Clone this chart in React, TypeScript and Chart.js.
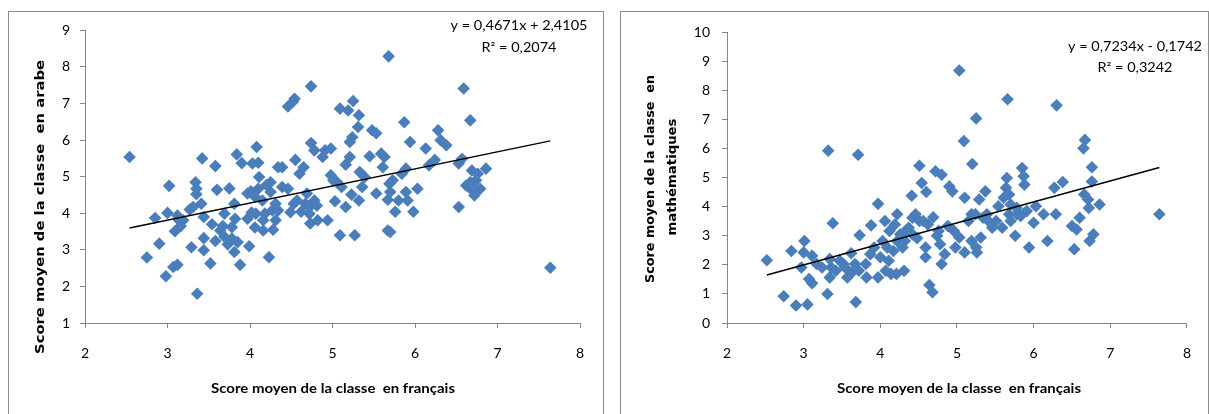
import React, { useEffect, useRef } from 'react';
import { Chart, registerables } from 'chart.js';

Chart.register(...registerables);

// ---------- Data ----------
// Left panel: x = score moyen en français, y = score moyen en arabe
const arabeX = [
  2.54, 2.75, 2.85, 2.90, 2.98, 3.00, 3.02, 3.07, 3.12, 3.09,
  3.12, 3.16, 3.19, 3.27, 3.29, 3.34, 3.35, 3.35, 3.36, 3.42,
  3.41, 3.44, 3.44, 3.44, 3.52, 3.54, 3.58, 3.60, 3.58, 3.64,
  3.67, 3.69, 3.73, 3.75, 3.78, 3.81, 3.82, 3.81, 3.84, 3.85,
  3.88, 3.90, 3.99, 4.01, 4.02, 4.03, 4.08, 4.10, 4.07, 4.06,
  4.11, 4.10, 4.15, 4.18, 4.16, 4.23, 4.25, 4.27, 4.28, 4.31,
  4.34, 4.39, 4.39, 4.46, 4.52, 4.54, 4.46, 4.49, 4.55, 4.57,
  4.60, 4.62, 4.65, 4.69, 4.72, 4.73, 4.74, 4.74, 4.78, 4.78,
  4.81, 4.82, 4.88, 4.91, 4.94, 4.98, 4.98, 5.01, 5.03, 5.09,
  5.09, 5.11, 5.16, 5.16, 5.19, 5.21, 5.24, 5.21, 5.23, 5.25,
  5.27, 5.31, 5.32, 5.32, 5.33, 5.36, 5.39, 5.45, 5.48, 5.53,
  5.53, 5.59, 5.61, 5.63, 5.67, 5.68, 5.69, 5.70, 5.67, 5.73,
  5.76, 5.80, 5.84, 5.87, 5.89, 5.89, 5.91, 5.94, 5.98, 6.03,
  6.13, 6.17, 6.24, 6.28, 6.31, 6.38, 6.53, 6.53, 6.57, 6.59,
  6.67, 6.65, 6.69, 6.72, 6.74, 6.79, 6.86, 7.64, 6.69, 6.76,
  3.78, 3.69, 3.97, 4.06, 4.20, 4.25, 4.34, 4.53, 4.67, 4.72,
  3.97, 4.16, 4.31, 3.31, 3.14, 5.70, 6.67, 6.72, 6.62, 5.05,
];
const arabeY = [
  5.54, 2.79, 3.87, 3.17, 2.28, 4.01, 4.75, 2.53, 2.59, 3.51,
  3.94, 3.65, 3.81, 4.10, 3.07, 4.85, 4.67, 4.52, 1.80, 5.50,
  4.26, 3.90, 3.32, 2.99, 2.63, 3.70, 5.29, 4.64, 3.24, 3.53,
  3.65, 3.99, 3.15, 4.68, 3.62, 4.26, 3.85, 2.94, 5.61, 3.21,
  2.59, 5.37, 3.10, 4.60, 4.02, 5.36, 5.81, 5.38, 3.99, 3.61,
  4.99, 4.67, 4.35, 3.99, 3.53, 2.80, 4.85, 4.08, 3.55, 4.26,
  5.26, 5.26, 4.72, 6.92, 7.05, 7.13, 4.67, 4.03, 5.46, 4.35,
  5.08, 4.04, 5.26, 4.54, 3.99, 3.72, 7.47, 5.92, 5.72, 4.35,
  4.21, 3.81, 5.54, 5.72, 3.81, 5.77, 5.04, 4.90, 4.33, 6.86,
  3.40, 4.72, 5.33, 4.17, 6.81, 5.95, 6.08, 5.54, 4.51, 7.07,
  3.40, 6.36, 6.68, 4.35, 5.13, 4.72, 4.99, 5.56, 6.27, 6.19,
  4.54, 5.63, 5.26, 5.54, 3.53, 8.29, 4.81, 3.49, 4.37, 4.90,
  4.04, 4.35, 5.08, 6.49, 5.22, 4.58, 4.35, 5.95, 4.04, 4.67,
  5.77, 5.31, 5.46, 6.27, 6.00, 5.86, 4.17, 5.36, 5.49, 7.41,
  6.54, 4.72, 5.17, 4.49, 4.90, 4.67, 5.22, 2.51, 4.72, 5.08,
  3.31, 3.36, 4.54, 4.45, 4.77, 4.58, 4.08, 4.26, 4.26, 4.17,
  3.85, 3.81, 3.81, 4.17, 3.81, 4.58, 4.85, 4.58, 4.76, 4.86,
];

// Right panel: x = score moyen en français, y = score moyen en mathématiques
const mathX = [
  2.52, 2.74, 2.84, 2.90, 2.97, 3.01, 3.00, 3.05, 3.07, 3.11,
  3.11, 3.17, 3.24, 3.31, 3.32, 3.34, 3.34, 3.38, 3.42, 3.47,
  3.54, 3.57, 3.62, 3.63, 3.68, 3.71, 3.72, 3.73, 3.81, 3.82,
  3.87, 3.88, 3.97, 3.97, 4.00, 4.03, 4.06, 4.07, 4.11, 4.12,
  4.14, 4.17, 4.21, 4.22, 4.26, 4.29, 4.31, 4.33, 4.37, 4.41,
  4.42, 4.46, 4.48, 4.51, 4.54, 4.56, 4.59, 4.60, 4.59, 4.64,
  4.68, 4.69, 4.72, 4.74, 4.76, 4.78, 4.80, 4.80, 4.84, 4.88,
  4.90, 4.94, 4.96, 4.98, 5.03, 5.03, 5.09, 5.10, 5.10, 5.15,
  5.19, 5.19, 5.20, 5.25, 5.25, 5.26, 5.29, 5.31, 5.34, 5.37,
  5.39, 5.41, 5.46, 5.54, 5.59, 5.61, 5.64, 5.65, 5.66, 5.68,
  5.68, 5.70, 5.76, 5.78, 5.83, 5.85, 5.87, 5.88, 5.91, 5.94,
  6.00, 6.03, 6.13, 6.18, 6.27, 6.29, 6.30, 6.38, 6.50, 6.53,
  6.56, 6.60, 6.65, 6.67, 6.66, 6.71, 6.72, 6.73, 6.76, 6.76,
  6.78, 6.86, 7.64, 3.36, 3.52, 3.67, 3.92, 4.09, 4.22, 4.32,
  4.42, 4.51, 4.62, 4.19, 5.51, 5.70, 5.78, 5.24,
];
const mathY = [
  2.16, 0.92, 2.48, 0.60, 1.91, 2.82, 2.43, 0.64, 1.51, 1.37,
  2.31, 2.03, 1.91, 1.00, 5.93, 2.20, 1.57, 3.43, 1.80, 2.14,
  1.91, 1.57, 2.40, 1.74, 0.72, 5.79, 1.80, 3.02, 2.03, 1.57,
  2.37, 3.36, 4.10, 1.57, 2.26, 2.82, 3.51, 1.80, 2.14, 3.17,
  1.69, 2.48, 1.69, 3.74, 3.05, 2.60, 1.80, 3.17, 3.28, 4.38,
  3.62, 3.74, 2.92, 5.41, 4.82, 3.51, 2.60, 4.51, 2.26, 1.31,
  1.06, 3.64, 5.22, 3.00, 3.17, 2.71, 5.10, 2.03, 2.37, 3.34,
  4.70, 4.53, 3.17, 2.60, 8.69, 2.94, 6.26, 4.31, 2.43, 3.51,
  3.74, 2.82, 5.47, 7.04, 2.60, 2.43, 4.25, 2.94, 3.62, 4.53,
  3.74, 3.51, 3.28, 4.02, 3.28, 4.31, 4.65, 4.99, 7.70, 4.42,
  3.74, 3.51, 3.00, 3.74, 3.68, 5.33, 5.05, 4.76, 3.85, 2.60,
  3.45, 4.02, 3.74, 2.82, 4.65, 3.74, 7.49, 4.85, 3.34, 2.54,
  3.22, 3.62, 6.01, 6.30, 4.42, 4.25, 3.96, 2.82, 4.87, 5.36,
  3.05, 4.08, 3.74, 1.91, 2.03, 2.03, 2.60, 2.60, 2.82, 2.82,
  3.05, 3.51, 3.39, 3.39, 3.51, 4.08, 3.96, 3.74,
];

// Linear trend lines (as printed on the chart)
const arabeSlope = 0.4671;
const arabeIntercept = 2.4105;
const mathSlope = 0.7234;
const mathIntercept = -0.1742;

const arabeEquation = ['y = 0,4671x + 2,4105', 'R² = 0,2074'];
const mathEquation = ['y = 0,7234x - 0,1742', 'R² = 0,3242'];

const xTitle = 'Score moyen de la classe  en français';
const arabeYTitle = ['Score moyen de la classe  en arabe'];
const mathYTitle = ['Score moyen de la classe  en', 'mathématiques'];

const xRange = [2, 8];
const arabeRange = [1, 9];
const mathRange = [0, 10];

// ---------- Drawing helpers ----------
type TextItem = {
  text: string;
  x: number;
  y: number;
  width: number;
  font: string;
  rotate?: boolean;
};

function makeTextPlugin(items: TextItem[]) {
  return {
    id: 'fittedTexts',
    afterDraw(chart: any) {
      const ctx: CanvasRenderingContext2D = chart.ctx;
      for (const it of items) {
        ctx.save();
        ctx.font = it.font;
        const w = ctx.measureText(it.text).width;
        ctx.translate(it.x, it.y);
        if (it.rotate) ctx.rotate(-Math.PI / 2);
        ctx.scale(it.width / w, 1);
        ctx.textAlign = 'center';
        ctx.textBaseline = 'middle';
        ctx.fillStyle = '#000';
        ctx.fillText(it.text, 0, 0);
        ctx.restore();
      }
    },
  };
}

type PanelProps = {
  xs: number[];
  ys: number[];
  slope: number;
  intercept: number;
  yRange: number[];
  width: number;
  height: number;
  yAxisWidth: number;
  padRight: number;
  yTickPadding: number;
  texts: TextItem[];
};

const AXIS_GREY = '#868686';
const MARKER = '#4a7ebb';

function ScatterPanel(p: PanelProps) {
  const ref = useRef<HTMLCanvasElement>(null);
  useEffect(() => {
    const canvas = ref.current!;
    const pts = p.xs.map((x, i) => ({ x, y: p.ys[i] }));
    const xMin = Math.min(...p.xs);
    const xMax = Math.max(...p.xs);
    const trend = [
      { x: xMin, y: p.slope * xMin + p.intercept },
      { x: xMax, y: p.slope * xMax + p.intercept },
    ];
    const chart = new Chart(canvas, {
      type: 'scatter',
      data: {
        datasets: [
          {
            type: 'line',
            data: trend,
            borderColor: '#000',
            borderWidth: 1.5,
            pointRadius: 0,
            fill: false,
            order: 0,
          } as any,
          {
            data: pts,
            pointStyle: 'rectRot',
            pointRadius: 6.3,
            pointHoverRadius: 6.3,
            backgroundColor: MARKER,
            borderColor: MARKER,
            borderWidth: 0,
            order: 1,
          },
        ],
      },
      options: {
        responsive: false,
        animation: false,
        events: [],
        layout: { padding: { left: 0, top: 18, right: p.padRight, bottom: 0 } },
        plugins: { legend: { display: false }, tooltip: { enabled: false } },
        scales: {
          x: {
            type: 'linear',
            min: xRange[0],
            max: xRange[1],
            ticks: { stepSize: 1, padding: 17, color: '#000', font: { family: 'Lato', size: 14 } },
            grid: { display: true, drawOnChartArea: false, drawTicks: true, tickLength: 5, color: AXIS_GREY },
            border: { display: true, color: AXIS_GREY, width: 1 },
            afterFit: (s: any) => {
              s.height = p.height - 311;
            },
          },
          y: {
            type: 'linear',
            min: p.yRange[0],
            max: p.yRange[1],
            ticks: { stepSize: 1, padding: p.yTickPadding, color: '#000', font: { family: 'Lato', size: 14 } },
            grid: { display: true, drawOnChartArea: false, drawTicks: true, tickLength: 5, color: AXIS_GREY },
            border: { display: true, color: AXIS_GREY, width: 1 },
            afterFit: (s: any) => {
              s.width = p.yAxisWidth;
            },
          },
        },
      },
      plugins: [makeTextPlugin(p.texts)],
    } as any);
    return () => chart.destroy();
  }, []);
  return <canvas ref={ref} width={p.width} height={p.height} style={{ display: 'block' }} />;
}

const TITLE_FONT_Y = 'bold 13px "DejaVu Sans"';
const TITLE_FONT_X = 'bold 14px Lato';
const EQ_FONT = '13px Lato';

export default function App() {
  const leftTexts: TextItem[] = [
    { text: arabeYTitle[0], x: 32, y: 195, width: 294, font: TITLE_FONT_Y, rotate: true },
    { text: xTitle, x: 324, y: 376, width: 244, font: TITLE_FONT_X },
    { text: arabeEquation[0], x: 510, y: 14, width: 137, font: EQ_FONT },
    { text: arabeEquation[1], x: 510, y: 36, width: 75, font: EQ_FONT },
  ];
  const rightTexts: TextItem[] = [
    { text: mathYTitle[0], x: 30, y: 167, width: 208, font: TITLE_FONT_Y, rotate: true },
    { text: mathYTitle[1], x: 52, y: 165, width: 117, font: TITLE_FONT_Y, rotate: true },
    { text: xTitle, x: 338, y: 376, width: 244, font: TITLE_FONT_X },
    { text: mathEquation[0], x: 514, y: 35, width: 134, font: EQ_FONT },
    { text: mathEquation[1], x: 514, y: 56, width: 75, font: EQ_FONT },
  ];
  const boxStyle = (left: number, width: number): React.CSSProperties => ({
    position: 'absolute',
    left,
    top: 11,
    width,
    height: 402,
    borderTop: '1px solid #8c8c8c',
    borderLeft: '1px solid #8c8c8c',
    borderRight: '1px solid #8c8c8c',
    background: '#fff',
  });
  return (
    <div>
      <div style={boxStyle(8, 594)}>
        <ScatterPanel
          xs={arabeX}
          ys={arabeY}
          slope={arabeSlope}
          intercept={arabeIntercept}
          yRange={arabeRange}
          width={594}
          height={402}
          yAxisWidth={76}
          padRight={23}
          yTickPadding={10}
          texts={leftTexts}
        />
      </div>
      <div style={boxStyle(620, 587)}>
        <ScatterPanel
          xs={mathX}
          ys={mathY}
          slope={mathSlope}
          intercept={mathIntercept}
          yRange={mathRange}
          width={587}
          height={402}
          yAxisWidth={106}
          padRight={15}
          yTickPadding={12}
          texts={rightTexts}
        />
      </div>
    </div>
  );
}
